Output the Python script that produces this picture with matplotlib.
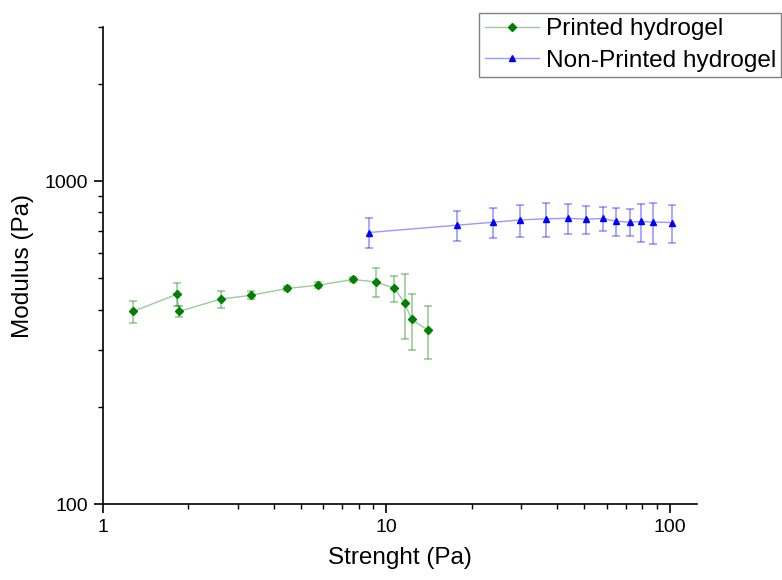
import matplotlib
matplotlib.use("Agg")
import matplotlib.pyplot as plt
from matplotlib.ticker import FixedLocator, LogLocator, NullFormatter, FuncFormatter

plt.rcParams['font.family'] = ['Liberation Sans', 'DejaVu Sans']

# ---------- data ----------
printed_x = [1.28, 1.82, 1.86, 2.60, 3.33, 4.47, 5.75, 7.64, 9.20, 10.67, 11.6, 12.29, 14.0]
printed_y = [395, 446, 395, 431, 443, 465, 476, 496, 487, 466, 420, 373, 346]
printed_err = [31, 36, 15, 26, 13, 8, 10, 8, 50, 44, 95, 73, 65]

nonprinted_x = [8.66, 17.7, 23.9, 29.6, 36.5, 43.9, 50.8, 58.0, 64.8, 72.8, 79.0, 87.1, 102.2]
nonprinted_y = [693, 730, 746, 758, 764, 767, 762, 766, 751, 746, 750, 747, 744]
nonprinted_err = [74, 79, 80, 88, 92, 81, 78, 64, 74, 72, 102, 107, 101]

x_ticks = [1, 10, 100]
y_ticks = [100, 1000]

GREEN = '#008000'
BLUE = '#0000ff'
GREEN_LIGHT = (0.0, 0.5, 0.0, 0.4)
BLUE_LIGHT = (0.0, 0.0, 1.0, 0.4)

# ---------- plot ----------
fig = plt.figure(figsize=(7.82, 5.8), dpi=100)
ax = fig.add_axes([0.1317, 0.131, 0.7596, 0.8224])

ax.errorbar(printed_x, printed_y, yerr=printed_err, fmt='none',
            ecolor=GREEN_LIGHT, elinewidth=1.2, capsize=3, capthick=1.2)
ax.errorbar(nonprinted_x, nonprinted_y, yerr=nonprinted_err, fmt='none',
            ecolor=BLUE_LIGHT, elinewidth=1.2, capsize=3, capthick=1.2)

ln1, = ax.plot(printed_x, printed_y, color=GREEN_LIGHT, lw=1.0, marker='D',
               ms=4.5, mfc=GREEN, mec=GREEN, label='Printed hydrogel')
ln2, = ax.plot(nonprinted_x, nonprinted_y, color=BLUE_LIGHT, lw=1.0, marker='^',
               ms=5, mfc=BLUE, mec=BLUE, label='Non-Printed hydrogel')

ax.set_xscale('log')
ax.set_yscale('log')
ax.set_xlim(1, 125)
ax.set_ylim(100, 3000)

ax.xaxis.set_major_locator(FixedLocator(x_ticks))
ax.yaxis.set_major_locator(FixedLocator(y_ticks))
ax.xaxis.set_minor_locator(LogLocator(base=10, subs=range(2, 10)))
ax.yaxis.set_minor_locator(LogLocator(base=10, subs=range(2, 10)))
fmt = FuncFormatter(lambda v, p: f"{v:g}")
ax.xaxis.set_major_formatter(fmt)
ax.yaxis.set_major_formatter(fmt)
ax.xaxis.set_minor_formatter(NullFormatter())
ax.yaxis.set_minor_formatter(NullFormatter())

for s in ['top', 'right']:
    ax.spines[s].set_visible(False)
for s in ['left', 'bottom']:
    ax.spines[s].set_linewidth(1.2)

ax.tick_params(which='major', direction='out', length=6.5, width=1.2,
               labelsize=14, pad=4)
ax.tick_params(which='minor', direction='out', length=3.5, width=1.0)

ax.set_xlabel('Strenght (Pa)', fontsize=17.5, labelpad=8)
ax.set_ylabel('Modulus (Pa)', fontsize=17.5, labelpad=8)

leg = fig.legend(handles=[ln1, ln2], loc='upper left',
                 bbox_to_anchor=(0.613, 0.978), fontsize=17.6,
                 frameon=True, fancybox=False, framealpha=1,
                 edgecolor='#808080', handlelength=2.2, handletextpad=0.3,
                 labelspacing=0.38, borderpad=0.22, borderaxespad=0)
leg.get_frame().set_linewidth(1.0)

fig.savefig('out.png', dpi=100)
